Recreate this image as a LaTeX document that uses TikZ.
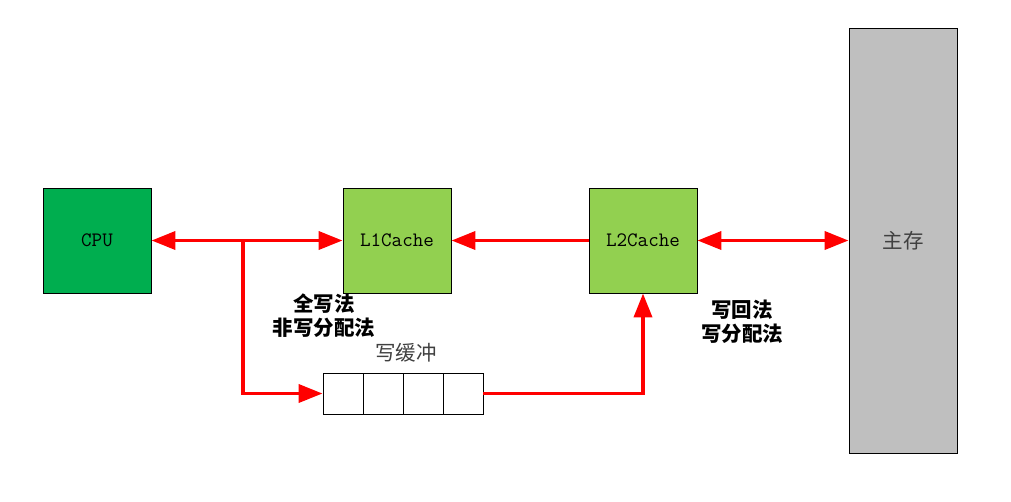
\documentclass[tikz,border=0pt]{standalone}
\usepackage{fontspec}
\usetikzlibrary{arrows.meta}
\newfontfamily\cjk{Noto Sans CJK SC}
\definecolor{cpugreen}{HTML}{00AE4F}
\definecolor{cachegreen}{HTML}{92D050}
\definecolor{memgrey}{HTML}{BFBFBF}
\definecolor{txtgrey}{HTML}{404040}
\tikzset{
  x=1pt, y=-1pt,
  unit/.style={draw=black, line width=0.9pt, minimum width=108pt, minimum height=105pt, inner sep=0pt,
    font=\ttfamily\fontsize{20.5}{22}\selectfont},
  cell/.style={draw=black, line width=0.9pt, minimum width=40pt, minimum height=41pt, inner sep=0pt, fill=white},
  redline/.style={draw=red, line width=3.8pt},
  arr/.style={redline, -{Triangle[length=24pt,width=18pt]}},
  dbl/.style={redline, {Triangle[length=24pt,width=18pt]}-{Triangle[length=24pt,width=18pt]}},
  lbl/.style={font=\cjk\bfseries\fontsize{20.5}{24}\selectfont, align=center, inner sep=0pt},
  glbl/.style={font=\cjk\fontsize{20.5}{22}\selectfont, text=txtgrey, inner sep=0pt},
}
\begin{document}
\begin{tikzpicture}
\useasboundingbox (0,0) rectangle (1011,501);
\node[unit, fill=cpugreen] (cpu) at (97,240.5) {CPU};
\node[unit, fill=cachegreen] (l1) at (397,240.5) {L1Cache};
\node[unit, fill=cachegreen] (l2) at (643,240.5) {L2Cache};
\node[draw=black, line width=0.9pt, fill=memgrey, minimum width=108pt, minimum height=425pt, inner sep=0pt,
  font=\cjk\fontsize{20.5}{22}\selectfont, text=txtgrey] (mem) at (903,240.5) {主存};
\node[cell] (b1) at (343,393.5) {};
\node[cell] (b2) at (383,393.5) {};
\node[cell] (b3) at (423,393.5) {};
\node[cell] (b4) at (463,393.5) {};
\node[glbl] (wb) at (406,353) {写缓冲};
\node[lbl] (wt) at (324,316) {全写法\\非写分配法};
\node[lbl] (wback) at (742,322) {写回法\\写分配法};
\coordinate (br) at (243,240);
\draw[dbl] (cpu.east) -- (l1.west);
\draw[arr] (br) |- (b1.west);
\draw[arr] (b4.east) -| (l2.south);
\draw[arr] (l2.west) -- (l1.east);
\draw[dbl] (l2.east) -- (l2.east -| mem.west);
\end{tikzpicture}
\end{document}
